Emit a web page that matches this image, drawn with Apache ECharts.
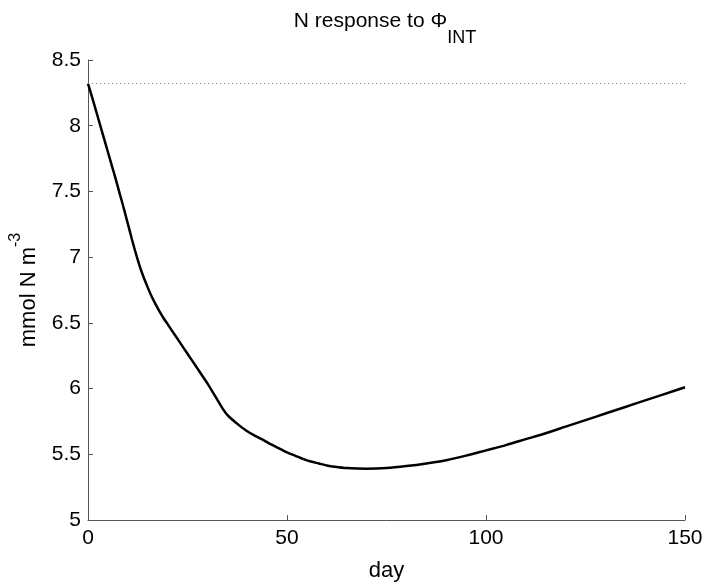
<!DOCTYPE html>
<html><head><meta charset="utf-8">
<script src="https://cdn.jsdelivr.net/npm/echarts@6/dist/echarts.min.js"></script>
<style>html,body{margin:0;padding:0;background:#fff}#c{width:708px;height:586px}</style>
</head><body><div id="c"></div>
<script>
const days = [0,1,2,3,4,5,6,7,8,9,10,11,12,13,14,15,16,17,18,19,20,22,24,26,28,30,32,34,35,36,38,40,42,44,46,48,50,52,54,56,58,60,62,65,70,75,80,85,90,95,100,105,110,115,120,125,130,135,140,145,150];
const nValues = [8.32,8.22,8.115,8.01,7.905,7.80,7.695,7.59,7.48,7.37,7.255,7.14,7.03,6.93,6.845,6.77,6.70,6.64,6.585,6.535,6.49,6.40,6.31,6.22,6.13,6.04,5.94,5.84,5.80,5.77,5.72,5.675,5.64,5.61,5.575,5.545,5.515,5.49,5.465,5.445,5.43,5.415,5.405,5.395,5.39,5.395,5.41,5.43,5.455,5.49,5.53,5.57,5.615,5.66,5.71,5.76,5.81,5.86,5.91,5.96,6.01];
const referenceLevel = 8.32;
const xTicks = [0,50,100,150];
const yTicks = [5,5.5,6,6.5,7,7.5,8,8.5];

const font = 'Liberation Sans, Arial, Helvetica, sans-serif';
const chart = echarts.init(document.getElementById('c'), null, {renderer:'canvas'});
chart.setOption({
  animation:false,
  backgroundColor:'#fff',
  title:{
    text:'{a|N response to Φ}{s|INT}',
    left:380, textAlign:'center', top:6,
    textStyle:{fontWeight:'normal',rich:{
      a:{fontFamily:font,fontSize:21,fontWeight:'normal',color:'#000',verticalAlign:'top',lineHeight:24},
      s:{fontFamily:font,fontSize:18,fontWeight:'normal',color:'#000',verticalAlign:'bottom',lineHeight:36}
    }}
  },
  grid:{left:88,right:23,top:60,bottom:66,containLabel:false,outerBoundsMode:'none'},
  xAxis:{
    type:'value',min:xTicks[0],max:xTicks[xTicks.length-1],interval:50,
    name:'day',nameLocation:'middle',nameGap:40,
    nameTextStyle:{fontFamily:font,fontSize:22,color:'#000'},
    axisLine:{lineStyle:{color:'#555',width:1}},
    axisTick:{inside:true,length:5,lineStyle:{color:'#555'}},
    axisLabel:{fontFamily:font,fontSize:21,color:'#000',margin:8},
    splitLine:{show:false}
  },
  yAxis:{
    type:'value',min:yTicks[0],max:yTicks[yTicks.length-1],interval:0.5,
    name:'{a|mmol N m}{s|-3}',nameLocation:'middle',nameGap:48,
    nameTextStyle:{rich:{
      a:{fontFamily:font,fontSize:22,color:'#000',lineHeight:32,verticalAlign:'bottom'},
      s:{fontFamily:font,fontSize:16,color:'#000',lineHeight:20,verticalAlign:'top'}
    }},
    axisLine:{show:true,lineStyle:{color:'#555',width:1}},
    axisTick:{show:true,inside:true,length:5,lineStyle:{color:'#555'}},
    axisLabel:{fontFamily:font,fontSize:21,color:'#000',margin:7},
    splitLine:{show:false}
  },
  series:[{
    type:'line',
    data:days.map((d,i)=>[d,nValues[i]]),
    showSymbol:false,smooth:0.3,
    lineStyle:{color:'#000',width:2.5},
    markLine:{
      silent:true,symbol:'none',label:{show:false},
      lineStyle:{color:'#888',type:[1,3],width:1},
      data:[{yAxis:referenceLevel}]
    }
  }]
});
</script></body></html>
